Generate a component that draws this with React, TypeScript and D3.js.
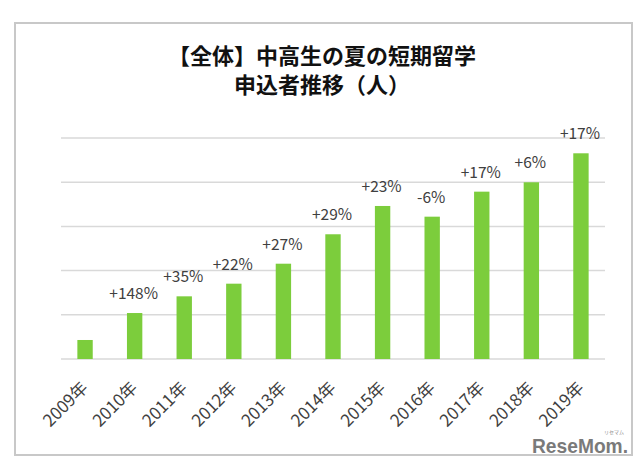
import React from "react";
import * as d3 from "d3";

const years = ["2009年", "2010年", "2011年", "2012年", "2013年", "2014年", "2015年", "2016年", "2017年", "2018年", "2019年"];
const applicants = [215, 520, 709, 852, 1078, 1411, 1731, 1610, 1893, 1999, 2327];
const growthLabels = ["", "+148%", "+35%", "+22%", "+27%", "+29%", "+23%", "-6%", "+17%", "+6%", "+17%"];
const gridTicks = [0, 500, 1000, 1500, 2000, 2500];
const titleLines = ["【全体】中高生の夏の短期留学", "申込者推移（人）"];

const width = 640;
const height = 469;
const marginLeft = 61;
const marginRight = 35;
const plotTop = 138;
const plotBottom = 359;

const font = "'Noto Sans CJK JP', 'Noto Sans', sans-serif";

const App: React.FC = () => {
    const x = d3.scaleBand<string>()
        .domain(years)
        .range([marginLeft, width - marginRight])
        .paddingInner(0.69)
        .paddingOuter(0.33);

    const y = d3.scaleLinear()
        .domain([0, 2500])
        .range([plotBottom, plotTop]);

    return (
        <svg
            width={width}
            height={height}
            viewBox={`0 0 ${width} ${height}`}
            style={{ position: "absolute", left: 0, top: 0, display: "block", background: "#fff" }}
        >
            <rect x={15} y={23} width={617} height={432} fill="#fff" stroke="#c8c8c8" strokeWidth={2} />

            {/* title */}
            {titleLines.map((t, i) => (
                <text
                    key={t}
                    x={322}
                    y={64 + i * 29}
                    textAnchor="middle"
                    fontFamily={font}
                    fontWeight="bold"
                    fontSize={22}
                    fill="#111"
                >
                    {t}
                </text>
            ))}

            {/* gridlines */}
            {gridTicks.map((t) => (
                <line
                    key={t}
                    x1={marginLeft}
                    x2={width - marginRight}
                    y1={y(t)}
                    y2={y(t)}
                    stroke="#d9d9d9"
                    strokeWidth={1.5}
                />
            ))}

            {/* bars */}
            {years.map((yr, i) => (
                <rect
                    key={yr}
                    x={x(yr)}
                    y={y(applicants[i])}
                    width={x.bandwidth()}
                    height={y(0) - y(applicants[i])}
                    fill="#7ccd3c"
                />
            ))}

            {/* growth labels */}
            {years.map((yr, i) => (
                <text
                    key={"l" + yr}
                    x={(x(yr) ?? 0) + x.bandwidth() / 2 - 1}
                    y={y(applicants[i]) - 14}
                    textAnchor="middle"
                    fontFamily={font}
                    fontSize={15.5}
                    fill="#404040"
                >
                    {growthLabels[i]}
                </text>
            ))}

            {/* x axis labels */}
            {years.map((yr) => {
                const cx = (x(yr) ?? 0) + x.bandwidth() / 2;
                return (
                    <text
                        key={"x" + yr}
                        transform={`translate(${cx + 4},${plotBottom + 30}) rotate(-45)`}
                        textAnchor="end"
                        fontFamily={font}
                        fontSize={17}
                        fill="#404040"
                    >
                        {yr}
                    </text>
                );
            })}

            {/* watermark */}
            <text
                x={532}
                y={453}
                textLength={96}
                lengthAdjust="spacingAndGlyphs"
                fontFamily="'Liberation Sans Narrow', 'Liberation Sans', sans-serif"
                fontWeight="bold"
                fontSize={21}
                fill="#7a7a7a"
            >
                ReseMom.
            </text>
            <text x={614} y={434} textAnchor="middle" fontFamily={font} fontSize={5} fill="#8a8a8a">
                リセマム
            </text>
        </svg>
    );
};

export default App;
